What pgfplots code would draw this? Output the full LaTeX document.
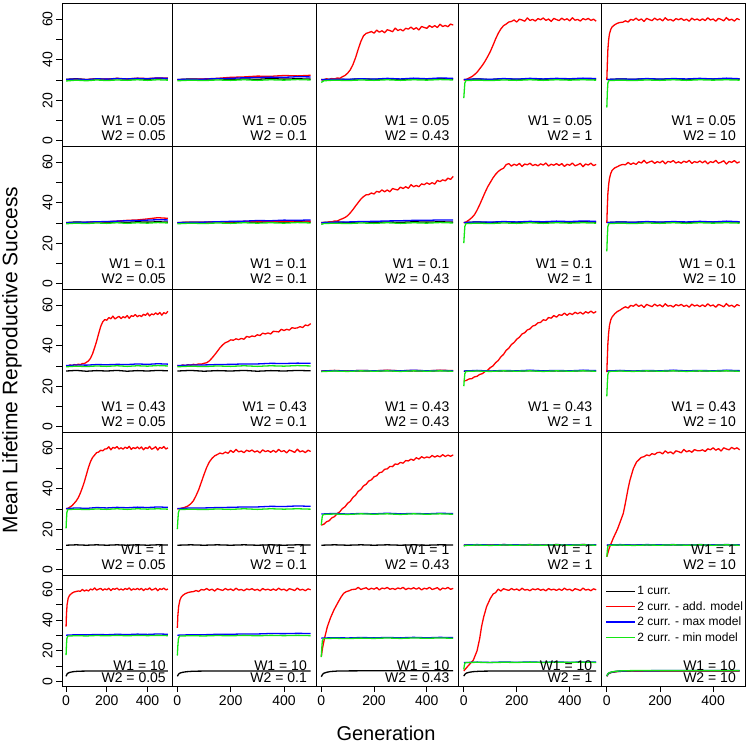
\documentclass[border=0pt]{standalone}
\usepackage{fontspec}
\setmainfont{Liberation Sans}
\usepackage{pgfplots}
\pgfplotsset{compat=1.18}
\definecolor{Rgreen}{RGB}{20,230,20}
\definecolor{Rred}{RGB}{255,0,0}
\definecolor{Rblue}{RGB}{0,0,255}
\newcommand{\tfont}{\fontsize{14}{16}\selectfont}
\tikzset{cK/.style={black}, cR/.style={Rred}, cB/.style={Rblue}, cG/.style={Rgreen}}
\pgfplotsset{
  panel/.style={scale only axis, anchor=north west, xmin=-20, xmax=520,
    xtick=\empty, ytick=\empty, axis line style={line width=0.9pt},
    clip=true, /pgf/number format/assume math mode=true,
    tick label style={font=\tfont}, tick align=outside, major tick length=6pt,
    tick style={line width=0.8pt, black},
    every axis plot/.append style={line width=1.3pt, line join=round}},
  rA/.style={ymin=-2.6, ymax=68, height=143pt},
  rE/.style={ymin=-2.8, ymax=69.3, height=111pt, xtick={0,200,400}, xtick pos=bottom},
  cA/.style={width=110pt, ytick={0,10,20,30,40,50,60}, yticklabels={0,,20,,40,,60}, ytick pos=left,
    yticklabel style={rotate=90, anchor=south}},
}
\newcommand{\wl}[5]{%
  \node[anchor=base east, font=\tfont, inner sep=0pt] at ([xshift=-#3pt,yshift=#4pt]rel axis cs:1,0) {W1 = #1};
  \node[anchor=base east, font=\tfont, inner sep=0pt] at ([xshift=-#3pt,yshift=#5pt]rel axis cs:1,0) {W2 = #2};}
\begin{document}
\begin{tikzpicture}
\useasboundingbox (0,0) rectangle (748pt,745pt);
% ================= ROW 1 : W1 = 0.05 =================
\begin{axis}[panel, rA, cA, at={(62pt,742pt)}]
\addplot[cK] coordinates {(0,30.3)(50,30.6)(100,30.2)(150,30.5)(200,30.3)(250,30.7)(300,30.4)(350,30.6)(400,30.3)(450,30.7)(500,30.5)};
\addplot[cR] coordinates {(0,30.1)(50,30.4)(100,30.2)(150,30.6)(200,30.4)(250,30.8)(300,30.5)(350,30.9)(400,30.7)(450,31.0)(500,30.9)};
\addplot[cB] coordinates {(0,30.2)(50,30.5)(100,30.1)(150,30.6)(200,30.4)(250,30.7)(300,30.5)(350,30.8)(400,30.6)(450,31.0)(500,30.8)};
\addplot[cG] coordinates {(0,29.5)(50,29.9)(100,29.6)(150,30.0)(200,29.7)(250,30.0)(300,29.8)(350,30.1)(400,29.8)(450,30.1)(500,29.9)};
\wl{0.05}{0.05}{6}{20}{5}
\end{axis}
\begin{axis}[panel, rA, at={(172pt,742pt)}, width=144pt]
\addplot[cK] coordinates {(0,30.2)(50,30.5)(100,30.3)(150,30.6)(200,30.2)(250,30.5)(300,30.3)(350,30.7)(400,30.4)(450,30.6)(500,30.4)};
\addplot[cR] coordinates {(0,30.1)(50,30.3)(100,30.5)(150,30.8)(200,31.3)(250,31.5)(300,31.9)(350,31.8)(400,32.2)(450,32.0)(500,32.3)};
\addplot[cB] coordinates {(0,30.2)(50,30.4)(100,30.4)(150,30.7)(200,30.8)(250,31.1)(300,31.2)(350,31.4)(400,31.3)(450,31.6)(500,31.5)};
\addplot[cG] coordinates {(0,29.6)(50,29.9)(100,29.7)(150,30.0)(200,29.8)(250,30.1)(300,29.8)(350,30.1)(400,29.9)(450,30.2)(500,30.0)};
\wl{0.05}{0.1}{9}{20}{5}
\end{axis}
\begin{axis}[panel, rA, at={(316pt,742pt)}, width=142.5pt]
\addplot[cK] coordinates {(0,30.2)(50,30.5)(100,30.2)(150,30.6)(200,30.3)(250,30.5)(300,30.2)(350,30.6)(400,30.4)(450,30.7)(500,30.4)};
\addplot[cR] coordinates {(0,30.2)(10,29.8)(20,30.6)(30,30.1)(40,30.7)(50,30.4)(60,31.0)(70,30.8)(80,31.6)(90,32.2)(100,33.4)(110,35.0)(120,37.6)(130,41.0)(140,45.2)(150,49.0)(160,51.8)(170,53.0)(180,53.4)(190,53.9)(200,53.1)(210,54.6)(220,53.6)(230,54.3)(240,53.3)(250,54.8)(260,54.4)(270,53.8)(280,55.6)(290,54.4)(300,55.0)(310,54.2)(320,55.5)(330,55.1)(340,56.1)(350,55.0)(360,55.8)(370,54.7)(380,56.4)(390,55.9)(400,55.5)(410,56.8)(420,56.0)(430,56.8)(440,55.9)(450,57.5)(460,56.4)(470,56.9)(480,56.3)(490,57.6)(500,57.1)};
\addplot[cB] coordinates {(0,30.1)(50,30.4)(100,30.3)(150,30.6)(200,30.4)(250,30.8)(300,30.5)(350,30.9)(400,30.6)(450,31.0)(500,30.8)};
\addplot[cG] coordinates {(0,28.8)(10,29.6)(50,29.9)(100,29.7)(150,30.0)(200,29.8)(250,30.1)(300,29.8)(350,30.1)(400,29.9)(450,30.2)(500,30.0)};
\wl{0.05}{0.43}{9}{20}{5}
\end{axis}
\begin{axis}[panel, rA, at={(458.5pt,742pt)}, width=143pt]
\addplot[cK] coordinates {(0,30.2)(50,30.5)(100,30.2)(150,30.6)(200,30.3)(250,30.5)(300,30.3)(350,30.6)(400,30.3)(450,30.6)(500,30.4)};
\addplot[cR] coordinates {(0,29.9)(10,30.3)(20,31.0)(30,31.6)(40,32.6)(50,33.8)(60,35.5)(70,37.2)(80,39.2)(90,41.5)(100,44.0)(110,47.0)(120,50.2)(130,53.0)(140,55.2)(150,56.8)(160,57.6)(170,58.6)(180,58.9)(190,59.6)(200,58.6)(210,60.0)(220,59.6)(230,59.0)(240,60.6)(250,59.4)(260,59.9)(270,59.1)(280,60.3)(290,59.7)(300,60.6)(310,59.4)(320,60.1)(330,58.9)(340,60.4)(350,59.8)(360,59.3)(370,60.5)(380,59.6)(390,60.2)(400,59.2)(410,60.7)(420,59.5)(430,59.9)(440,59.1)(450,60.3)(460,59.7)(470,60.4)(480,59.4)(490,60.0)(500,59.0)};
\addplot[cB] coordinates {(0,30.2)(50,30.5)(100,30.3)(150,30.7)(200,30.4)(250,30.8)(300,30.5)(350,30.8)(400,30.6)(450,30.9)(500,30.7)};
\addplot[cG] coordinates {(0,21.0)(2,25.0)(4,28.5)(8,29.7)(50,29.9)(100,29.7)(150,30.0)(200,29.8)(250,30.1)(300,29.8)(350,30.1)(400,29.9)(450,30.1)(500,29.9)};
\wl{0.05}{1}{9}{20}{5}
\end{axis}
\begin{axis}[panel, rA, at={(601.5pt,742pt)}, width=143.5pt]
\addplot[cK] coordinates {(0,30.2)(50,30.5)(100,30.3)(150,30.6)(200,30.3)(250,30.6)(300,30.2)(350,30.6)(400,30.4)(450,30.6)(500,30.4)};
\addplot[cR] coordinates {(0,30.0)(2,38.0)(4,45.0)(7,50.0)(10,52.8)(15,55.0)(20,56.2)(30,57.3)(40,58.0)(50,58.4)(60,58.5)(70,59.2)(80,58.6)(90,59.9)(100,59.5)(110,60.5)(120,59.4)(130,60.1)(140,58.9)(150,60.4)(160,59.8)(170,59.3)(180,60.5)(190,59.6)(200,60.2)(210,59.2)(220,60.7)(230,59.5)(240,59.9)(250,59.1)(260,60.3)(270,59.7)(280,60.4)(290,59.4)(300,60.0)(310,59.0)(320,60.5)(330,59.6)(340,60.1)(350,59.3)(360,60.2)(370,59.3)(380,60.7)(390,59.6)(400,60.1)(410,59.0)(420,60.4)(430,59.9)(440,59.2)(450,60.8)(460,59.5)(470,60.0)(480,59.1)(490,60.3)(500,59.7)};
\addplot[cB] coordinates {(0,30.2)(50,30.5)(100,30.3)(150,30.7)(200,30.4)(250,30.7)(300,30.5)(350,30.8)(400,30.5)(450,30.9)(500,30.6)};
\addplot[cG] coordinates {(0,16.4)(2,24.0)(4,28.5)(8,29.7)(50,29.9)(100,29.7)(150,30.0)(200,29.8)(250,30.1)(300,29.8)(350,30.1)(400,29.9)(450,30.1)(500,29.9)};
\wl{0.05}{10}{9}{20}{5}
\end{axis}
% ================= ROW 2 : W1 = 0.1 =================
\begin{axis}[panel, rA, cA, at={(62pt,599pt)}]
\addplot[cK] coordinates {(0,30.2)(50,30.5)(100,30.3)(150,30.6)(200,30.3)(250,30.5)(300,30.3)(350,30.6)(400,30.4)(450,30.6)(500,30.4)};
\addplot[cR] coordinates {(0,29.9)(50,30.1)(100,30.2)(150,30.4)(200,30.6)(250,30.9)(300,31.3)(350,31.5)(400,32.0)(450,32.6)(500,32.3)};
\addplot[cB] coordinates {(0,30.0)(50,30.3)(100,30.4)(150,30.6)(200,30.7)(250,30.9)(300,31.1)(350,31.2)(400,31.4)(450,31.6)(500,31.5)};
\addplot[cG] coordinates {(0,29.6)(50,29.9)(100,29.7)(150,30.0)(200,29.8)(250,30.1)(300,29.8)(350,30.1)(400,29.9)(450,30.2)(500,30.0)};
\wl{0.1}{0.05}{6}{20}{5}
\end{axis}
\begin{axis}[panel, rA, at={(172pt,599pt)}, width=144pt]
\addplot[cK] coordinates {(0,30.2)(50,30.4)(100,30.3)(150,30.6)(200,30.3)(250,30.5)(300,30.3)(350,30.6)(400,30.3)(450,30.6)(500,30.4)};
\addplot[cR] coordinates {(0,30.1)(50,30.4)(100,30.3)(150,30.6)(200,30.5)(250,30.8)(300,30.6)(350,30.9)(400,30.7)(450,31.0)(500,30.9)};
\addplot[cB] coordinates {(0,30.1)(50,30.3)(100,30.4)(150,30.6)(200,30.8)(250,30.9)(300,31.2)(350,31.1)(400,31.4)(450,31.3)(500,31.5)};
\addplot[cG] coordinates {(0,29.6)(50,29.9)(100,29.7)(150,30.0)(200,29.8)(250,30.1)(300,29.9)(350,30.1)(400,29.9)(450,30.2)(500,30.0)};
\wl{0.1}{0.1}{9}{20}{5}
\end{axis}
\begin{axis}[panel, rA, at={(316pt,599pt)}, width=142.5pt]
\addplot[cK] coordinates {(0,30.2)(50,30.5)(100,30.2)(150,30.6)(200,30.3)(250,30.5)(300,30.3)(350,30.6)(400,30.4)(450,30.6)(500,30.4)};
\addplot[cR] coordinates {(0,30.0)(10,30.3)(20,30.1)(30,30.6)(40,30.5)(50,31.0)(60,30.9)(70,31.6)(80,32.1)(90,32.7)(100,33.6)(110,35.0)(120,36.6)(130,38.4)(140,40.1)(150,41.8)(160,43.0)(170,43.9)(180,44.0)(190,44.8)(200,44.3)(210,45.6)(220,45.2)(230,46.3)(240,45.4)(250,46.3)(260,45.4)(270,47.0)(280,46.6)(290,46.3)(300,47.7)(310,47.0)(320,47.9)(330,47.1)(340,48.9)(350,47.9)(360,48.5)(370,47.9)(380,49.3)(390,48.9)(400,49.8)(410,49.1)(420,49.9)(430,49.2)(440,51.0)(450,50.4)(460,51.3)(470,50.8)(480,52.1)(490,51.5)(500,53.0)};
\addplot[cB] coordinates {(0,30.1)(50,30.4)(100,30.5)(150,30.7)(200,30.8)(250,31.0)(300,31.1)(350,31.3)(400,31.3)(450,31.5)(500,31.5)};
\addplot[cG] coordinates {(0,29.3)(10,29.7)(50,29.9)(100,29.7)(150,30.0)(200,29.8)(250,30.1)(300,29.8)(350,30.1)(400,29.9)(450,30.2)(500,30.0)};
\wl{0.1}{0.43}{9}{20}{5}
\end{axis}
\begin{axis}[panel, rA, at={(458.5pt,599pt)}, width=143pt]
\addplot[cK] coordinates {(0,30.2)(50,30.5)(100,30.2)(150,30.6)(200,30.3)(250,30.5)(300,30.3)(350,30.6)(400,30.3)(450,30.6)(500,30.4)};
\addplot[cR] coordinates {(0,30.0)(10,30.6)(20,31.5)(30,32.6)(40,34.0)(50,36.3)(60,39.0)(70,42.0)(80,45.0)(90,47.8)(100,50.0)(110,52.2)(120,54.0)(130,55.4)(140,56.4)(150,57.0)(160,58.8)(170,59.3)(180,58.1)(190,59.0)(200,58.4)(210,59.4)(220,57.9)(230,59.1)(240,58.7)(250,59.5)(260,58.3)(270,58.9)(280,58.2)(290,59.2)(300,58.6)(310,59.6)(320,58.1)(330,59.0)(340,58.5)(350,59.3)(360,58.4)(370,59.3)(380,57.9)(390,59.0)(400,58.5)(410,59.6)(420,58.2)(430,58.7)(440,59.4)(450,57.8)(460,59.1)(470,58.6)(480,59.5)(490,58.3)(500,58.9)};
\addplot[cB] coordinates {(0,30.2)(50,30.5)(100,30.4)(150,30.7)(200,30.5)(250,30.8)(300,30.6)(350,30.9)(400,30.7)(450,31.0)(500,30.8)};
\addplot[cG] coordinates {(0,20.0)(2,24.5)(4,28.3)(8,29.7)(50,29.9)(100,29.7)(150,30.0)(200,29.8)(250,30.1)(300,29.8)(350,30.1)(400,29.9)(450,30.1)(500,29.9)};
\wl{0.1}{1}{9}{20}{5}
\end{axis}
\begin{axis}[panel, rA, at={(601.5pt,599pt)}, width=143.5pt]
\addplot[cK] coordinates {(0,30.2)(50,30.5)(100,30.3)(150,30.6)(200,30.3)(250,30.6)(300,30.2)(350,30.6)(400,30.4)(450,30.6)(500,30.4)};
\addplot[cR] coordinates {(0,30.0)(2,38.0)(4,44.5)(7,49.0)(10,52.0)(15,54.5)(20,56.0)(30,57.2)(40,57.8)(50,58.5)(60,58.9)(70,58.7)(80,59.9)(90,58.9)(100,59.6)(110,58.9)(120,60.2)(130,59.6)(140,60.9)(150,59.5)(160,60.1)(170,60.6)(180,59.4)(190,60.3)(200,59.7)(210,60.7)(220,59.2)(230,60.4)(240,60.0)(250,60.8)(260,59.6)(270,60.2)(280,59.5)(290,60.5)(300,59.9)(310,60.9)(320,59.4)(330,60.3)(340,59.8)(350,60.6)(360,59.7)(370,60.6)(380,59.2)(390,60.3)(400,59.8)(410,60.9)(420,59.5)(430,60.0)(440,60.7)(450,59.1)(460,60.4)(470,59.9)(480,60.8)(490,59.6)(500,60.2)};
\addplot[cB] coordinates {(0,30.2)(50,30.5)(100,30.3)(150,30.7)(200,30.4)(250,30.7)(300,30.5)(350,30.8)(400,30.5)(450,30.9)(500,30.6)};
\addplot[cG] coordinates {(0,16.0)(2,23.5)(4,28.3)(8,29.7)(50,29.9)(100,29.7)(150,30.0)(200,29.8)(250,30.1)(300,29.8)(350,30.1)(400,29.9)(450,30.1)(500,29.9)};
\wl{0.1}{10}{9}{20}{5}
\end{axis}
% ================= ROW 3 : W1 = 0.43 =================
\begin{axis}[panel, rA, cA, at={(62pt,456pt)}]
\addplot[cK] coordinates {(0,27.5)(50,27.8)(100,27.4)(150,27.7)(200,27.5)(250,27.8)(300,27.4)(350,27.7)(400,27.5)(450,27.8)(500,27.6)};
\addplot[cR] coordinates {(0,30.2)(10,29.9)(20,30.5)(30,30.2)(40,30.7)(50,30.4)(60,30.9)(70,30.6)(80,31.2)(90,31.2)(100,31.8)(110,32.5)(120,33.8)(130,36.0)(140,39.0)(150,42.2)(160,46.0)(170,49.5)(180,51.8)(190,52.9)(200,52.6)(210,53.9)(220,53.3)(230,54.6)(240,53.2)(250,53.9)(260,54.5)(270,53.4)(280,54.3)(290,53.8)(300,54.9)(310,53.5)(320,54.8)(330,54.5)(340,55.4)(350,54.3)(360,55.0)(370,54.4)(380,55.5)(390,55.0)(400,56.1)(410,54.7)(420,55.7)(430,55.3)(440,56.2)(450,55.4)(460,56.4)(470,55.1)(480,56.3)(490,55.8)(500,57.0)};
\addplot[cB] coordinates {(0,30.2)(50,30.5)(100,30.4)(150,30.7)(200,30.6)(250,30.8)(300,30.7)(350,31.0)(400,30.8)(450,31.1)(500,30.9)};
\addplot[cG] coordinates {(0,29.6)(50,29.9)(100,29.7)(150,30.0)(200,29.8)(250,30.1)(300,29.8)(350,30.1)(400,29.9)(450,30.2)(500,30.0)};
\wl{0.43}{0.05}{6}{20}{5}
\end{axis}
\begin{axis}[panel, rA, at={(172pt,456pt)}, width=144pt]
\addplot[cK] coordinates {(0,27.5)(50,27.8)(100,27.4)(150,27.7)(200,27.5)(250,27.8)(300,27.4)(350,27.7)(400,27.5)(450,27.8)(500,27.6)};
\addplot[cR] coordinates {(0,30.2)(10,29.9)(20,30.5)(30,30.2)(40,30.6)(50,30.4)(60,30.8)(70,30.6)(80,31.0)(90,30.9)(100,31.3)(110,31.6)(120,32.5)(130,33.9)(140,35.5)(150,37.2)(160,39.0)(170,40.4)(180,41.5)(190,42.0)(200,42.9)(210,42.7)(220,43.4)(230,43.0)(240,43.6)(250,43.2)(260,44.6)(270,44.2)(280,44.8)(290,44.5)(300,45.4)(310,45.0)(320,46.2)(330,45.8)(340,46.3)(350,45.8)(360,47.1)(370,47.0)(380,46.8)(390,48.1)(400,47.5)(410,48.1)(420,47.7)(430,48.9)(440,48.6)(450,48.8)(460,49.4)(470,49.0)(480,50.2)(490,49.9)(500,50.9)};
\addplot[cB] coordinates {(0,30.2)(50,30.5)(100,30.5)(150,30.7)(200,30.8)(250,31.0)(300,31.0)(350,31.3)(400,31.2)(450,31.4)(500,31.3)};
\addplot[cG] coordinates {(0,29.6)(50,29.9)(100,29.7)(150,30.0)(200,29.8)(250,30.1)(300,29.8)(350,30.1)(400,29.9)(450,30.2)(500,30.0)};
\wl{0.43}{0.1}{9}{20}{5}
\end{axis}
\begin{axis}[panel, rA, at={(316pt,456pt)}, width=142.5pt]
\addplot[cK] coordinates {(0,27.4)(50,27.7)(100,27.4)(150,27.6)(200,27.4)(250,27.7)(300,27.4)(350,27.6)(400,27.4)(450,27.7)(500,27.5)};
\addplot[cR] coordinates {(0,27.5)(50,27.8)(100,27.5)(150,27.8)(200,27.6)(250,27.9)(300,27.6)(350,27.8)(400,27.6)(450,27.9)(500,27.7)};
\addplot[cB] coordinates {(0,27.5)(50,27.7)(100,27.5)(150,27.8)(200,27.6)(250,27.8)(300,27.6)(350,27.9)(400,27.6)(450,27.8)(500,27.6)};
\addplot[cG] coordinates {(0,27.2)(50,27.5)(100,27.3)(150,27.6)(200,27.4)(250,27.6)(300,27.3)(350,27.6)(400,27.4)(450,27.6)(500,27.4)};
\wl{0.43}{0.43}{9}{20}{5}
\end{axis}
\begin{axis}[panel, rA, at={(458.5pt,456pt)}, width=143pt]
\addplot[cK] coordinates {(0,27.4)(50,27.7)(100,27.4)(150,27.6)(200,27.4)(250,27.7)(300,27.4)(350,27.6)(400,27.4)(450,27.7)(500,27.5)};
\addplot[cR] coordinates {(0,22.5)(10,22.9)(20,23.6)(30,23.7)(40,24.6)(50,24.9)(60,25.8)(70,26.2)(80,27.2)(90,27.9)(100,29.2)(110,30.0)(120,31.6)(130,32.7)(140,34.5)(150,35.7)(160,37.7)(170,38.8)(180,40.6)(190,41.6)(200,43.2)(210,44.2)(220,45.8)(230,46.4)(240,47.8)(250,48.3)(260,49.7)(270,50.1)(280,51.3)(290,51.5)(300,52.8)(310,52.5)(320,53.9)(330,53.6)(340,54.9)(350,54.1)(360,55.3)(370,55.0)(380,56.1)(390,55.0)(400,56.0)(410,55.4)(420,56.5)(430,55.8)(440,56.5)(450,55.6)(460,56.8)(470,56.1)(480,57.1)(490,56.1)(500,56.9)};
\addplot[cB] coordinates {(0,27.5)(50,27.8)(100,27.5)(150,27.8)(200,27.6)(250,27.9)(300,27.6)(350,27.8)(400,27.6)(450,27.9)(500,27.7)};
\addplot[cG] coordinates {(0,20.0)(2,23.5)(4,26.2)(8,27.3)(50,27.5)(100,27.3)(150,27.6)(200,27.4)(250,27.6)(300,27.3)(350,27.6)(400,27.4)(450,27.6)(500,27.4)};
\wl{0.43}{1}{9}{20}{5}
\end{axis}
\begin{axis}[panel, rA, at={(601.5pt,456pt)}, width=143.5pt]
\addplot[cK] coordinates {(0,27.4)(50,27.7)(100,27.4)(150,27.6)(200,27.4)(250,27.7)(300,27.4)(350,27.6)(400,27.4)(450,27.7)(500,27.5)};
\addplot[cR] coordinates {(0,27.0)(2,34.0)(4,41.0)(7,46.5)(10,50.0)(15,52.8)(20,54.2)(30,55.8)(40,56.9)(50,57.6)(60,58.5)(70,59.2)(80,58.6)(90,59.9)(100,59.5)(110,60.5)(120,59.4)(130,60.1)(140,58.9)(150,60.4)(160,59.8)(170,59.3)(180,60.5)(190,59.6)(200,60.2)(210,59.2)(220,60.7)(230,59.5)(240,59.9)(250,59.1)(260,60.3)(270,59.7)(280,60.4)(290,59.4)(300,60.0)(310,59.0)(320,60.5)(330,59.6)(340,60.1)(350,59.3)(360,60.2)(370,59.3)(380,60.7)(390,59.6)(400,60.1)(410,59.0)(420,60.4)(430,59.9)(440,59.2)(450,60.8)(460,59.5)(470,60.0)(480,59.1)(490,60.3)(500,59.7)};
\addplot[cB] coordinates {(0,27.5)(50,27.8)(100,27.5)(150,27.8)(200,27.6)(250,27.9)(300,27.6)(350,27.8)(400,27.6)(450,27.9)(500,27.7)};
\addplot[cG] coordinates {(0,15.0)(2,21.5)(4,25.8)(8,27.3)(50,27.5)(100,27.3)(150,27.6)(200,27.4)(250,27.6)(300,27.3)(350,27.6)(400,27.4)(450,27.6)(500,27.4)};
\wl{0.43}{10}{9}{20}{5}
\end{axis}
% ================= ROW 4 : W1 = 1 =================
\begin{axis}[panel, rA, cA, at={(62pt,313pt)}]
\addplot[cK] coordinates {(0,12.1)(50,12.3)(100,12.1)(150,12.3)(200,12.1)(250,12.3)(300,12.1)(350,12.3)(400,12.1)(450,12.3)(500,12.2)};
\addplot[cR] coordinates {(0,30.0)(10,30.4)(20,31.0)(30,31.7)(40,32.8)(50,34.0)(60,35.6)(70,37.8)(80,40.5)(90,43.5)(100,47.0)(110,50.5)(120,53.4)(130,55.4)(140,56.6)(150,57.8)(160,58.1)(170,59.0)(180,58.7)(190,59.6)(200,59.7)(210,60.7)(220,59.2)(230,60.4)(240,60.0)(250,60.8)(260,59.6)(270,60.2)(280,59.5)(290,60.5)(300,59.9)(310,60.9)(320,59.4)(330,60.3)(340,59.8)(350,60.6)(360,59.7)(370,60.6)(380,59.2)(390,60.3)(400,59.8)(410,60.9)(420,59.5)(430,60.0)(440,60.7)(450,59.1)(460,60.4)(470,59.9)(480,60.8)(490,59.6)(500,60.2)};
\addplot[cB] coordinates {(0,30.2)(50,30.5)(100,30.3)(150,30.7)(200,30.5)(250,30.8)(300,30.6)(350,30.9)(400,30.7)(450,31.0)(500,30.8)};
\addplot[cG] coordinates {(0,20.4)(2,25.0)(4,28.3)(8,29.7)(50,29.9)(100,29.7)(150,30.0)(200,29.8)(250,30.1)(300,29.8)(350,30.1)(400,29.9)(450,30.1)(500,29.9)};
\wl{1}{0.05}{6}{20}{5}
\end{axis}
\begin{axis}[panel, rA, at={(172pt,313pt)}, width=144pt]
\addplot[cK] coordinates {(0,12.1)(50,12.3)(100,12.1)(150,12.3)(200,12.1)(250,12.3)(300,12.1)(350,12.3)(400,12.1)(450,12.3)(500,12.2)};
\addplot[cR] coordinates {(0,30.0)(10,30.2)(20,30.5)(30,30.9)(40,31.5)(50,32.5)(60,34.0)(70,36.5)(80,39.5)(90,43.2)(100,47.0)(110,50.5)(120,53.2)(130,55.0)(140,56.2)(150,56.9)(160,57.6)(170,57.2)(180,58.1)(190,57.5)(200,58.9)(210,57.9)(220,59.4)(230,58.2)(240,58.6)(250,57.8)(260,59.0)(270,58.4)(280,59.1)(290,58.1)(300,58.7)(310,57.7)(320,59.2)(330,58.3)(340,58.8)(350,58.0)(360,58.9)(370,58.0)(380,59.4)(390,58.3)(400,58.8)(410,57.7)(420,59.1)(430,58.6)(440,57.9)(450,59.5)(460,58.2)(470,58.7)(480,57.8)(490,59.0)(500,58.4)};
\addplot[cB] coordinates {(0,30.2)(50,30.5)(100,30.5)(150,30.7)(200,30.8)(250,31.0)(300,31.0)(350,31.3)(400,31.2)(450,31.5)(500,31.3)};
\addplot[cG] coordinates {(0,20.0)(2,24.5)(4,28.2)(8,29.7)(50,29.9)(100,29.7)(150,30.0)(200,29.8)(250,30.1)(300,29.8)(350,30.1)(400,29.9)(450,30.1)(500,29.9)};
\wl{1}{0.1}{9}{20}{5}
\end{axis}
\begin{axis}[panel, rA, at={(316pt,313pt)}, width=142.5pt]
\addplot[cK] coordinates {(0,12.1)(50,12.3)(100,12.1)(150,12.3)(200,12.1)(250,12.3)(300,12.1)(350,12.3)(400,12.1)(450,12.3)(500,12.2)};
\addplot[cR] coordinates {(0,22.0)(10,22.5)(20,23.7)(30,24.2)(40,25.6)(50,26.2)(60,27.7)(70,28.6)(80,30.2)(90,31.1)(100,32.8)(110,33.8)(120,35.7)(130,36.8)(140,38.7)(150,39.6)(160,41.4)(170,42.2)(180,43.8)(190,44.4)(200,45.9)(210,46.4)(220,47.9)(230,48.2)(240,49.6)(250,49.8)(260,51.0)(270,50.9)(280,52.2)(290,52.0)(300,53.0)(310,52.6)(320,53.9)(330,53.7)(340,54.6)(350,54.0)(360,55.3)(370,54.6)(380,55.8)(390,55.1)(400,55.7)(410,55.3)(420,56.4)(430,55.6)(440,56.3)(450,55.7)(460,56.8)(470,55.9)(480,56.6)(490,56.0)(500,56.7)};
\addplot[cB] coordinates {(0,27.5)(50,27.8)(100,27.5)(150,27.8)(200,27.6)(250,27.9)(300,27.6)(350,27.8)(400,27.6)(450,27.9)(500,27.7)};
\addplot[cG] coordinates {(0,22.0)(2,24.5)(4,26.5)(8,27.3)(50,27.5)(100,27.3)(150,27.6)(200,27.4)(250,27.6)(300,27.3)(350,27.6)(400,27.4)(450,27.6)(500,27.4)};
\wl{1}{0.43}{9}{20}{5}
\end{axis}
\begin{axis}[panel, rA, at={(458.5pt,313pt)}, width=143pt]
\addplot[cK] coordinates {(0,12.1)(50,12.3)(100,12.1)(150,12.3)(200,12.1)(250,12.3)(300,12.1)(350,12.3)(400,12.1)(450,12.3)(500,12.2)};
\addplot[cR] coordinates {(0,12.1)(50,12.3)(100,12.2)(150,12.4)(200,12.2)(250,12.4)(300,12.2)(350,12.4)(400,12.2)(450,12.4)(500,12.3)};
\addplot[cB] coordinates {(0,12.2)(50,12.4)(100,12.2)(150,12.4)(200,12.3)(250,12.4)(300,12.2)(350,12.4)(400,12.3)(450,12.4)(500,12.3)};
\addplot[cG] coordinates {(0,11.6)(5,12.0)(50,12.2)(100,12.0)(150,12.2)(200,12.1)(250,12.3)(300,12.1)(350,12.3)(400,12.1)(450,12.3)(500,12.1)};
\wl{1}{1}{9}{20}{5}
\end{axis}
\begin{axis}[panel, rA, at={(601.5pt,313pt)}, width=143.5pt]
\addplot[cK] coordinates {(0,12.1)(50,12.3)(100,12.1)(150,12.3)(200,12.1)(250,12.3)(300,12.1)(350,12.3)(400,12.1)(450,12.3)(500,12.2)};
\addplot[cR] coordinates {(0,6.4)(10,11.0)(24,15.5)(40,20.0)(50,23.5)(62,27.8)(70,33.0)(80,40.0)(87,44.2)(100,50.0)(112,53.2)(130,55.5)(140,55.8)(150,56.7)(160,56.3)(170,57.3)(180,56.9)(190,57.8)(200,58.0)(210,57.2)(220,58.7)(230,57.6)(240,58.2)(250,57.2)(260,58.7)(270,58.3)(280,57.7)(290,59.4)(300,58.2)(310,58.8)(320,58.0)(330,59.3)(340,58.8)(350,58.7)(360,59.2)(370,58.4)(380,59.7)(390,59.2)(400,60.2)(410,59.0)(420,59.8)(430,58.6)(440,60.2)(450,59.6)(460,59.2)(470,60.4)(480,59.6)(490,60.2)(500,59.2)};
\addplot[cB] coordinates {(0,12.2)(50,12.4)(100,12.2)(150,12.4)(200,12.3)(250,12.4)(300,12.2)(350,12.4)(400,12.3)(450,12.4)(500,12.3)};
\addplot[cG] coordinates {(0,6.4)(2,9.5)(4,11.5)(8,12.1)(50,12.2)(100,12.0)(150,12.2)(200,12.1)(250,12.3)(300,12.1)(350,12.3)(400,12.1)(450,12.3)(500,12.1)};
\wl{1}{10}{9}{20}{5}
\end{axis}
% ================= ROW 5 : W1 = 10 =================
\begin{axis}[panel, rE, cA, at={(62pt,170pt)}]
\addplot[cK] coordinates {(0,3.5)(5,5.0)(10,5.6)(20,6.1)(35,6.5)(60,6.8)(100,6.9)(200,7.0)(300,7.0)(400,7.0)(500,7.0)};
\addplot[cR] coordinates {(0,35.7)(2,44.0)(5,50.0)(10,54.0)(15,55.6)(20,56.5)(30,57.6)(40,58.3)(50,58.6)(60,58.9)(70,58.7)(80,59.9)(90,58.9)(100,59.6)(110,58.9)(120,60.2)(130,59.6)(140,60.9)(150,59.5)(160,60.1)(170,60.6)(180,59.4)(190,60.3)(200,59.7)(210,60.7)(220,59.2)(230,60.4)(240,60.0)(250,60.8)(260,59.6)(270,60.2)(280,59.5)(290,60.5)(300,59.9)(310,60.9)(320,59.4)(330,60.3)(340,59.8)(350,60.6)(360,59.7)(370,60.6)(380,59.2)(390,60.3)(400,59.8)(410,60.9)(420,59.5)(430,60.0)(440,60.7)(450,59.1)(460,60.4)(470,59.9)(480,60.8)(490,59.6)(500,60.2)};
\addplot[cB] coordinates {(0,30.2)(50,30.5)(100,30.4)(150,30.7)(200,30.5)(250,30.8)(300,30.6)(350,30.9)(400,30.7)(450,31.0)(500,30.8)};
\addplot[cG] coordinates {(0,17.3)(2,24.0)(4,28.0)(8,29.6)(50,29.9)(100,29.7)(150,30.0)(200,29.8)(250,30.1)(300,29.8)(350,30.1)(400,29.9)(450,30.1)(500,29.9)};
\wl{10}{0.05}{6}{15.5}{3.5}
\end{axis}
\begin{axis}[panel, rE, at={(172pt,170pt)}, width=144pt]
\addplot[cK] coordinates {(0,3.5)(5,5.0)(10,5.6)(20,6.1)(35,6.5)(60,6.8)(100,6.9)(200,7.0)(300,7.0)(400,7.0)(500,7.0)};
\addplot[cR] coordinates {(0,35.0)(2,43.0)(5,49.0)(10,53.2)(15,55.0)(20,56.0)(30,57.2)(40,57.9)(50,58.3)(60,58.5)(70,59.2)(80,58.6)(90,59.9)(100,59.5)(110,60.5)(120,59.4)(130,60.1)(140,58.9)(150,60.4)(160,59.8)(170,59.3)(180,60.5)(190,59.6)(200,60.2)(210,59.2)(220,60.7)(230,59.5)(240,59.9)(250,59.1)(260,60.3)(270,59.7)(280,60.4)(290,59.4)(300,60.0)(310,59.0)(320,60.5)(330,59.6)(340,60.1)(350,59.3)(360,60.2)(370,59.3)(380,60.7)(390,59.6)(400,60.1)(410,59.0)(420,60.4)(430,59.9)(440,59.2)(450,60.8)(460,59.5)(470,60.0)(480,59.1)(490,60.3)(500,59.7)};
\addplot[cB] coordinates {(0,30.2)(50,30.5)(100,30.5)(150,30.8)(200,30.8)(250,31.0)(300,31.0)(350,31.3)(400,31.2)(450,31.4)(500,31.3)};
\addplot[cG] coordinates {(0,17.0)(2,23.5)(4,27.8)(8,29.6)(50,29.9)(100,29.7)(150,30.0)(200,29.8)(250,30.1)(300,29.8)(350,30.1)(400,29.9)(450,30.1)(500,29.9)};
\wl{10}{0.1}{9}{15.5}{3.5}
\end{axis}
\begin{axis}[panel, rE, at={(316pt,170pt)}, width=142.5pt]
\addplot[cK] coordinates {(0,3.2)(5,4.8)(10,5.5)(20,6.1)(35,6.6)(60,6.9)(100,7.0)(200,7.1)(300,7.1)(400,7.1)(500,7.1)};
\addplot[cR] coordinates {(0,16.2)(5,22.0)(12,28.0)(23,35.7)(35,41.5)(48,46.6)(65,52.0)(75,55.0)(85,57.4)(95,58.5)(105,59.0)(115,59.8)(125,60.0)(130,60.0)(140,61.3)(150,59.9)(160,60.5)(170,61.0)(180,59.8)(190,60.7)(200,60.1)(210,61.1)(220,59.6)(230,60.8)(240,60.4)(250,61.2)(260,60.0)(270,60.6)(280,59.9)(290,60.9)(300,60.3)(310,61.3)(320,59.8)(330,60.7)(340,60.2)(350,61.0)(360,60.1)(370,61.0)(380,59.6)(390,60.7)(400,60.2)(410,61.3)(420,59.9)(430,60.4)(440,61.1)(450,59.5)(460,60.8)(470,60.3)(480,61.2)(490,60.0)(500,60.6)};
\addplot[cB] coordinates {(0,28.3)(50,28.6)(100,28.4)(150,28.7)(200,28.5)(250,28.7)(300,28.5)(350,28.8)(400,28.5)(450,28.8)(500,28.6)};
\addplot[cG] coordinates {(0,16.0)(2,22.0)(4,26.5)(8,28.0)(50,28.2)(100,28.0)(150,28.3)(200,28.1)(250,28.4)(300,28.1)(350,28.4)(400,28.2)(450,28.4)(500,28.2)};
\wl{10}{0.43}{9}{15.5}{3.5}
\end{axis}
\begin{axis}[panel, rE, at={(458.5pt,170pt)}, width=143pt]
\addplot[cK] coordinates {(0,3.6)(5,5.0)(10,5.6)(20,6.1)(35,6.5)(60,6.8)(100,6.9)(200,7.0)(300,7.0)(400,7.0)(500,7.0)};
\addplot[cR] coordinates {(0,7.0)(15,10.0)(36,14.0)(50,20.0)(60,28.0)(67,35.7)(75,42.0)(86,48.7)(100,54.0)(111,57.0)(120,57.8)(130,60.1)(140,58.9)(150,60.4)(160,59.8)(170,59.3)(180,60.5)(190,59.6)(200,60.2)(210,59.2)(220,60.7)(230,59.5)(240,59.9)(250,59.1)(260,60.3)(270,59.7)(280,60.4)(290,59.4)(300,60.0)(310,59.0)(320,60.5)(330,59.6)(340,60.1)(350,59.3)(360,60.2)(370,59.3)(380,60.7)(390,59.6)(400,60.1)(410,59.0)(420,60.4)(430,59.9)(440,59.2)(450,60.8)(460,59.5)(470,60.0)(480,59.1)(490,60.3)(500,59.7)};
\addplot[cB] coordinates {(0,12.4)(50,12.7)(100,12.5)(150,12.8)(200,12.6)(250,12.8)(300,12.6)(350,12.8)(400,12.6)(450,12.8)(500,12.7)};
\addplot[cG] coordinates {(0,8.0)(2,10.5)(4,12.0)(8,12.4)(50,12.6)(100,12.4)(150,12.6)(200,12.5)(250,12.7)(300,12.5)(350,12.7)(400,12.5)(450,12.7)(500,12.5)};
\wl{10}{1}{9}{15.5}{3.5}
\end{axis}
\begin{axis}[panel, rE, at={(601.5pt,170pt)}, width=143.5pt,
  legend style={at={(0,1)}, anchor=north west, xshift=4pt, yshift=-10pt, draw=none, fill=none,
    font=\fontsize{12}{14}\selectfont, inner sep=0pt, row sep=2.4pt,
    nodes={inner sep=1.4pt}},
  legend cell align=left,
  legend image code/.code={\draw[#1, line width=1.3pt] (0pt,0pt) -- (25pt,0pt); \path (0pt,0pt) -- (29pt,0pt);}]
\addplot[cK] coordinates {(0,3.5)(5,5.0)(10,5.6)(20,6.1)(35,6.5)(60,6.8)(100,6.9)(200,7.0)(300,7.0)(400,7.0)(500,7.0)};
\addlegendentry{1 curr.}
\addplot[cR] coordinates {(0,3.6)(5,5.1)(10,5.7)(20,6.2)(35,6.6)(60,6.9)(100,7.0)(200,7.1)(300,7.1)(400,7.1)(500,7.1)};
\addlegendentry{2 curr. - add. model}
\addplot[cB] coordinates {(0,3.7)(5,5.2)(10,5.8)(20,6.3)(35,6.7)(60,7.0)(100,7.1)(200,7.2)(300,7.2)(400,7.2)(500,7.2)};
\addlegendentry{2 curr. - max model}
\addplot[cG] coordinates {(0,3.8)(5,5.3)(10,5.9)(20,6.4)(35,6.8)(60,7.1)(100,7.2)(200,7.3)(300,7.2)(400,7.3)(500,7.2)};
\addlegendentry{2 curr. - min model}
\wl{10}{10}{9}{15.5}{3.5}
\end{axis}
\node[rotate=90, font=\fontsize{21}{24}\selectfont] at (12pt,385pt) {Mean Lifetime Reproductive Success};
\node[font=\fontsize{20}{24}\selectfont] at (386pt,12pt) {Generation};
\end{tikzpicture}
\end{document}
